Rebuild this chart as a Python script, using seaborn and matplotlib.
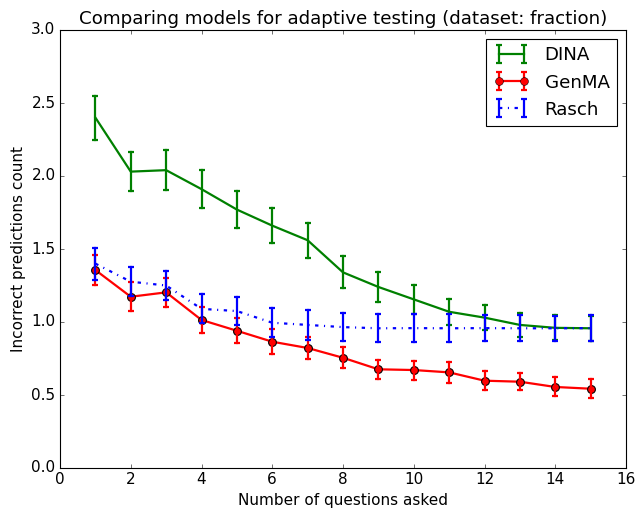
import numpy as np
import pandas as pd
import matplotlib
matplotlib.use("Agg")
import matplotlib.pyplot as plt
import seaborn as sns

plt.style.use("classic")
plt.rcParams["font.size"] = 13.7
plt.rcParams["legend.numpoints"] = 2

questions = np.arange(1, 16)

dina_mean = [2.40, 2.03, 2.04, 1.91, 1.77, 1.66, 1.56, 1.34, 1.24, 1.155, 1.07, 1.03, 0.98, 0.96, 0.957]
dina_err = [0.15, 0.135, 0.135, 0.13, 0.125, 0.12, 0.12, 0.11, 0.10, 0.10, 0.09, 0.085, 0.085, 0.085, 0.085]

genma_mean = [1.356, 1.173, 1.203, 1.014, 0.94, 0.865, 0.822, 0.755, 0.676, 0.671, 0.655, 0.598, 0.591, 0.555, 0.543]
genma_err = [0.10, 0.10, 0.10, 0.09, 0.085, 0.085, 0.077, 0.072, 0.065, 0.065, 0.07, 0.065, 0.06, 0.065, 0.065]

rasch_mean = [1.40, 1.276, 1.25, 1.09, 1.075, 0.995, 0.98, 0.965, 0.957, 0.958, 0.957, 0.958, 0.957, 0.957, 0.958]
rasch_err = [0.11, 0.10, 0.10, 0.10, 0.095, 0.10, 0.10, 0.095, 0.095, 0.095, 0.095, 0.09, 0.09, 0.085, 0.09]

models = {
    "DINA": (dina_mean, dina_err, dict(color="green", linestyle="-", marker=None)),
    "GenMA": (genma_mean, genma_err, dict(color="red", linestyle="-", marker="o")),
    "Rasch": (rasch_mean, rasch_err, dict(color="blue", linestyle="-.", marker=None)),
}

# each point stored as (mean - err, mean + err): the mean is the centre,
# min/max give the bar ends
rows = []
for name, (mean, err, _) in models.items():
    for q, m, e in zip(questions, mean, err):
        rows.append((name, q, m - e))
        rows.append((name, q, m + e))
df = pd.DataFrame(rows, columns=["model", "questions", "count"])

fig = plt.figure(figsize=(639 / 80, 510 / 80), dpi=80)
ax = fig.add_axes([60 / 639, 1 - 468 / 510, 566 / 639, 438 / 510])

handles = []
for name, (mean, err, style) in models.items():
    sub = df[df["model"] == name]
    sns.lineplot(
        data=sub, x="questions", y="count",
        estimator="mean", errorbar=lambda v: (v.min(), v.max()),
        err_style="bars",
        err_kws={"capsize": 3, "elinewidth": 2, "capthick": 2},
        color=style["color"], linestyle=style["linestyle"],
        marker=style["marker"], markersize=7,
        markeredgecolor="k", markeredgewidth=1,
        linewidth=2, ax=ax, legend=False,
    )
    # proxy artist so the legend shows error bar handles
    h = ax.errorbar([np.nan], [np.nan], yerr=[0.1], color=style["color"],
                    linestyle=style["linestyle"], marker=style["marker"],
                    markersize=7, markeredgecolor="k", linewidth=2,
                    elinewidth=2, capsize=3, capthick=2)
    handles.append((h, name))

ax.set_xlim(0, 16)
ax.set_ylim(0, 3)
ax.set_xticks(np.arange(0, 17, 2))
ax.set_yticks(np.arange(0, 3.01, 0.5))
ax.set_xlabel("Number of questions asked")
ax.set_ylabel("Incorrect predictions count")
ax.set_title("Comparing models for adaptive testing (dataset: fraction)")
ax.legend([h for h, _ in handles], [n for _, n in handles],
          loc="upper right", numpoints=2)

fig.savefig("out.png", dpi=80)
